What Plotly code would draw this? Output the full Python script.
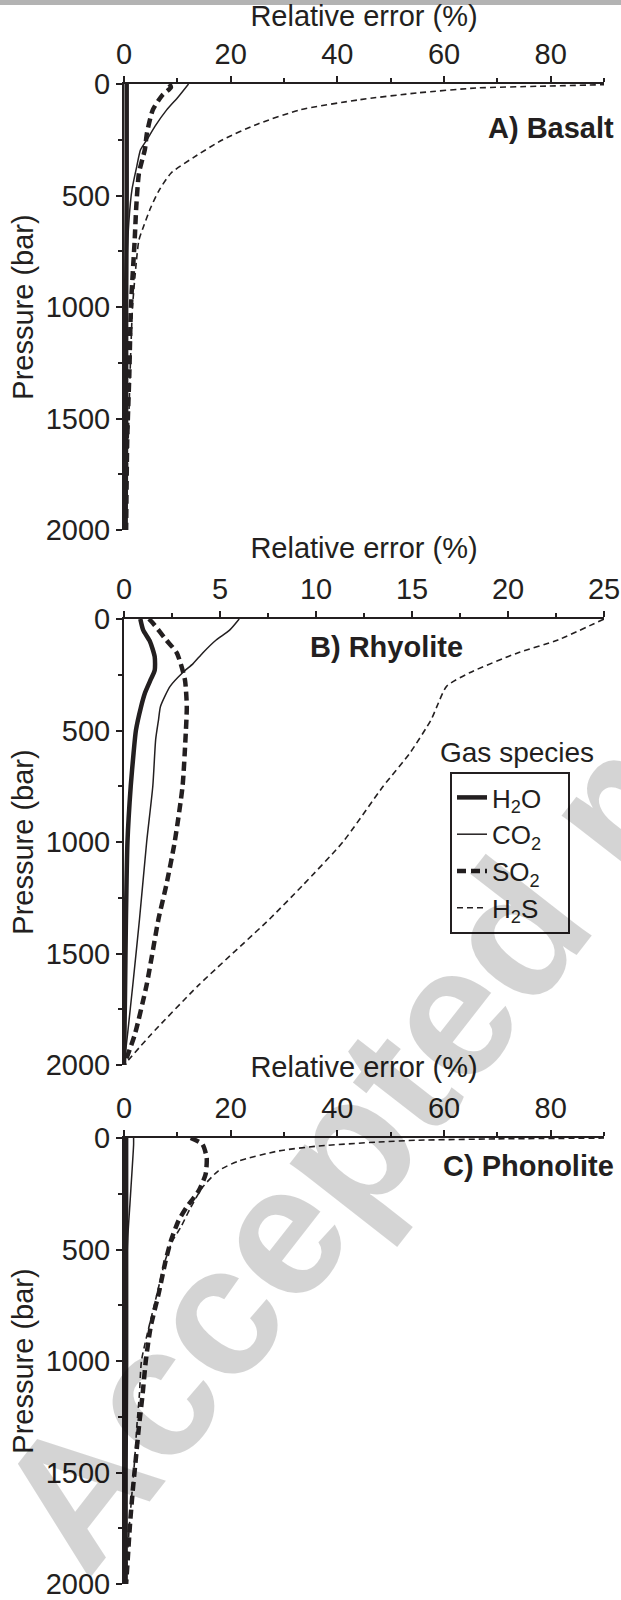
import plotly.graph_objects as go

FONT = "Liberation Sans, Arial, sans-serif"
INK = "#231f20"

# ---------------- data (Relative error %, Pressure bar) ----------------
# A) Basalt
P_A_H2O = [0, 500, 1000, 1500, 2000]
A_H2O = [0.5, 0.5, 0.4, 0.4, 0.3]
P_A_CO2 = [0, 57, 116, 190, 250, 295, 369, 473, 622, 845, 1200, 1600, 2000]
A_CO2 = [12.1, 10.2, 8.0, 5.8, 4.3, 3.1, 2.4, 1.5, 0.9, 0.5, 0.4, 0.3, 0.3]
P_A_SO2 = [0, 15, 50, 116, 220, 295, 400, 550, 700, 1000, 1300, 1600, 2000]
A_SO2 = [8.5, 8.8, 7.2, 5.4, 4.3, 3.9, 2.8, 2.3, 2.0, 1.3, 1.0, 0.6, 0.4]
P_A_H2S = [0, 10, 18, 40, 71, 116, 180, 250, 330, 400, 480, 555, 630, 700, 800,
           1000, 1250, 1500, 1750, 2000]
A_H2S = [96, 78, 66, 55, 44, 33, 25, 18.5, 13, 8.8, 6.5, 5, 3.8, 2.8, 2.3,
         1.6, 1.2, 0.9, 0.6, 0.3]

# B) Rhyolite
P_B_H2O = [0, 50, 100, 170, 230, 270, 330, 400, 500, 600, 750, 1000, 1350, 1700, 2000]
B_H2O = [0.85, 1.0, 1.35, 1.6, 1.6, 1.4, 1.1, 0.87, 0.62, 0.5, 0.35, 0.18, 0.1, 0.05, 0]
P_B_CO2 = [0, 50, 94, 152, 200, 241, 302, 392, 451, 540, 750, 1000, 1344, 1640, 1850, 2000]
B_CO2 = [6.0, 5.5, 4.8, 4.1, 3.6, 3.05, 2.4, 1.9, 1.8, 1.65, 1.5, 1.18, 0.81, 0.46, 0.2, 0]
P_B_SO2 = [0, 18, 94, 152, 271, 392, 540, 750, 1000, 1195, 1344, 1640, 1864, 2000]
B_SO2 = [1.3, 1.5, 2.2, 2.75, 3.17, 3.27, 3.2, 3.05, 2.64, 2.2, 1.8, 1.18, 0.56, 0]
P_B_H2S = [0, 94, 152, 241, 302, 392, 451, 600, 750, 1000, 1195, 1344, 1641, 1864, 2000]
B_H2S = [25, 22.6, 20.5, 18, 16.8, 16.3, 16, 14.9, 13.5, 11.4, 9.3, 7.6, 3.9, 1.4, 0]

# C) Phonolite
P_C_H2O = [0, 500, 1000, 1500, 2000]
C_H2O = [0.4, 0.4, 0.4, 0.3, 0.3]
P_C_CO2 = [0, 30, 150, 300, 450, 600, 1000, 1500, 2000]
C_CO2 = [1.8, 1.8, 1.5, 1.1, 0.7, 0.5, 0.4, 0.3, 0.3]
P_C_SO2 = [0, 28, 88, 163, 237, 312, 372, 461, 551, 698, 847, 996, 1146, 1295,
           1443, 1592, 1741, 1890, 2000]
C_SO2 = [12.5, 14.7, 15.5, 15.3, 14.0, 11.7, 10.2, 8.8, 7.8, 6.5, 5.0, 4.1, 3.5, 2.8,
         2.2, 1.6, 1.1, 0.7, 0.4]
P_C_H2S = [0, 4, 10, 18, 36, 58, 103, 147, 222, 312, 402, 461, 551, 698, 996, 1146,
           1295, 1443, 1741, 2000]
C_H2S = [92, 70, 55, 47.7, 36.5, 29, 21.5, 17.7, 14.7, 12.5, 10.6, 9.1, 7.7, 6.2, 3.3,
         2.9, 2.4, 2.0, 1.0, 0.3]

SPECIES = ["H2O", "CO2", "SO2", "H2S"]
LABELS = {"H2O": "H<sub>2</sub>O&nbsp;&nbsp;&nbsp;", "CO2": "CO<sub>2</sub>",
          "SO2": "SO<sub>2</sub>", "H2S": "H<sub>2</sub>S"}
STYLE = {
    "H2O": dict(color=INK, width=4.5, dash="solid"),
    "CO2": dict(color=INK, width=1.5, dash="solid"),
    "SO2": dict(color=INK, width=4.5, dash="9px,5px"),
    "H2S": dict(color=INK, width=1.6, dash="6px,4px"),
}

PANELS = [
    dict(name="A) Basalt", xmax=90, dtick=20, minor=10,
         data={"H2O": (P_A_H2O, A_H2O), "CO2": (P_A_CO2, A_CO2),
               "SO2": (P_A_SO2, A_SO2), "H2S": (P_A_H2S, A_H2S)}),
    dict(name="B) Rhyolite", xmax=25, dtick=5, minor=2.5,
         data={"H2O": (P_B_H2O, B_H2O), "CO2": (P_B_CO2, B_CO2),
               "SO2": (P_B_SO2, B_SO2), "H2S": (P_B_H2S, B_H2S)}),
    dict(name="C) Phonolite", xmax=90, dtick=20, minor=10,
         data={"H2O": (P_C_H2O, C_H2O), "CO2": (P_C_CO2, C_CO2),
               "SO2": (P_C_SO2, C_SO2), "H2S": (P_C_H2S, C_H2S)}),
]

W, H = 621, 1600
X0, X1 = 124, 604
PANEL_TOPS = [84, 619, 1138]
PANEL_H = 446

fig = go.Figure()
layout = dict(
    width=W, height=H, margin=dict(l=0, r=0, t=0, b=0, pad=0, autoexpand=False),
    paper_bgcolor="white", plot_bgcolor="white",
    font=dict(family=FONT, size=29, color=INK),
    showlegend=True,
)

for i, panel in enumerate(PANELS):
    k = "" if i == 0 else str(i + 1)
    xa, ya = "x" + k, "y" + k
    for sp in SPECIES:
        p, v = panel["data"][sp]
        fig.add_trace(go.Scatter(
            x=v, y=p, xaxis=xa, yaxis=ya, mode="lines",
            line=dict(shape="spline", smoothing=0.6, **STYLE[sp]),
            name=LABELS[sp], showlegend=(i == 1), hoverinfo="skip"))
    top = PANEL_TOPS[i]
    ydom = [1 - (top + PANEL_H) / H, 1 - top / H]
    layout["xaxis" + k] = dict(
        domain=[X0 / W, X1 / W], range=[0, panel["xmax"]], side="top",
        anchor=ya, showline=True, linecolor=INK, linewidth=2, showgrid=False,
        zeroline=False, ticks="outside", ticklen=6, tickwidth=2, tickcolor=INK,
        dtick=panel["dtick"], tick0=0, automargin=False, ticklabeloverflow="allow",
        minor=dict(ticks="outside", ticklen=4, tickwidth=1.5, tickcolor=INK,
                   dtick=panel["minor"], showgrid=False),
        tickfont=dict(size=29, family=FONT, color=INK),
        title=dict(text="Relative error (%)", standoff=6,
                   font=dict(size=29, family=FONT, color=INK)),
        fixedrange=True,
    )
    layout["yaxis" + k] = dict(
        domain=ydom, range=[2000, 0], anchor=xa, showline=True, linecolor=INK,
        linewidth=2, showgrid=False, zeroline=False, ticks="outside", ticklen=6,
        tickwidth=2, tickcolor=INK, dtick=500, tick0=0, automargin=False,
        ticklabeloverflow="allow",
        minor=dict(ticks="outside", ticklen=4, tickwidth=1.5, tickcolor=INK,
                   dtick=250, showgrid=False),
        tickfont=dict(size=29, family=FONT, color=INK),
        title=dict(text="Pressure (bar)", standoff=4,
                   font=dict(size=29, family=FONT, color=INK)),
        fixedrange=True,
    )

layout["legend"] = dict(
    x=450 / W, y=1 - 772 / H, xanchor="left", yanchor="top",
    bordercolor=INK, borderwidth=2, bgcolor="white",
    font=dict(size=26, family=FONT, color=INK),
    itemwidth=30, tracegroupgap=0, traceorder="normal",
)

annotations = [
    dict(text="<b>A) Basalt</b>", x=616 / W, y=1 - 128 / H, xanchor="right",
         yanchor="middle"),
    dict(text="<b>B) Rhyolite</b>", x=386 / W, y=1 - 647 / H, xanchor="center",
         yanchor="middle"),
    dict(text="<b>C) Phonolite</b>", x=616 / W, y=1 - 1166 / H, xanchor="right",
         yanchor="middle"),
    dict(text="Gas species", x=517 / W, y=1 - 752 / H, xanchor="center",
         yanchor="middle", font=dict(size=28, family=FONT, color=INK)),
]
for a in annotations:
    a.update(xref="paper", yref="paper", showarrow=False)
    a.setdefault("font", dict(size=29, family=FONT, color=INK))

# light watermark of the source page
annotations.append(dict(
    text="<b>Accepted manuscript</b>", x=615 / W, y=1 - 802 / H,
    xref="paper", yref="paper", xanchor="center", yanchor="middle",
    showarrow=False, textangle=-52,
    font=dict(size=185, family=FONT, color="rgba(0,0,0,0.17)")))
layout["annotations"] = annotations

layout["shapes"] = [dict(type="rect", xref="paper", yref="paper",
                         x0=0, x1=1, y0=1 - 5 / H, y1=1,
                         fillcolor="#b3b3b3", line=dict(width=0), layer="above")]

fig.update_layout(**layout)
fig.write_html("out.html", config={"displayModeBar": False},
               post_script="document.body.style.margin='0';"
                           "document.body.style.overflow='hidden';")
